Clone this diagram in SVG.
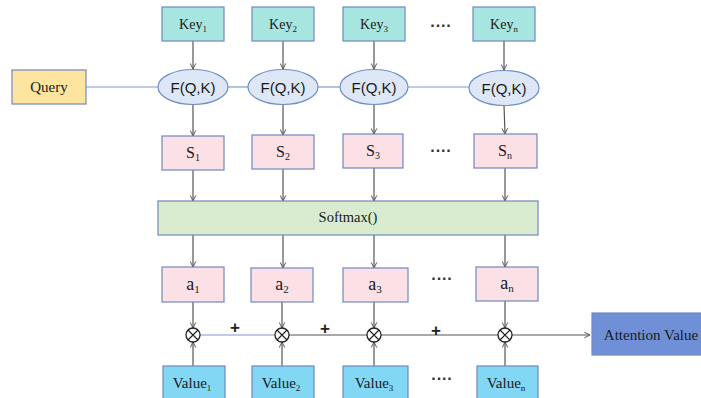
<svg xmlns="http://www.w3.org/2000/svg" width="701" height="398" viewBox="0 0 701 398">
  <style>
    .box { stroke: #7189bf; stroke-width: 1.2; }
    .key { fill: #a7e6e0; }
    .score { fill: #fbe0e5; }
    .val { fill: #82d7f5; }
    .query { fill: #fde59f; }
    .soft { fill: #d9ecd0; }
    .attn { fill: #6f8fd7; }
    .fqk { fill: #dde7f5; stroke: #6f8fc5; stroke-width: 1.2; }
    .serif { font-family: "Liberation Serif", "Times New Roman", serif; fill: #1a1a1a; text-anchor: middle; }
    .sans { font-family: "Liberation Sans", Arial, sans-serif; fill: #1a1a1a; text-anchor: middle; }
    .arrow { stroke: #555; stroke-width: 1.2; fill: none; marker-end: url(#head); }
    .link { stroke: #555; stroke-width: 1.2; fill: none; }
    .qline { stroke: #7f9ccb; stroke-width: 1.2; fill: none; }
    .otimes circle { fill: #fff; stroke: #222; stroke-width: 1.3; }
    .otimes path { stroke: #222; stroke-width: 1.2; }
    .dots { font-family: "Liberation Sans", Arial, sans-serif; font-size: 16px; font-weight: bold; fill: #333; text-anchor: middle; }
    .plus { font-family: "Liberation Sans", Arial, sans-serif; font-size: 17px; font-weight: bold; fill: #222; text-anchor: middle; }
  </style>
  <defs>
    <marker id="head" viewBox="0 0 10 10" refX="9" refY="5" markerWidth="7" markerHeight="7" markerUnits="userSpaceOnUse" orient="auto">
      <path d="M1,1 L9,5 L1,9" fill="none" stroke="#555" stroke-width="1.4"/>
    </marker>
  </defs>

  <!-- connectors -->
  <g id="connectors">
    <!-- query chain -->
    <path class="qline" d="M86,87 H158"/>
    <path class="qline" d="M227,87 H248"/>
    <path class="qline" d="M317,87 H340"/>
    <path class="qline" d="M408,87 H469"/>
    <!-- key to score function -->
    <path class="arrow" d="M193,41 V69"/>
    <path class="arrow" d="M283,41 V69"/>
    <path class="arrow" d="M374,41 V69"/>
    <path class="arrow" d="M504,41 V70"/>
    <!-- score function to S -->
    <path class="arrow" d="M193,104 V136"/>
    <path class="arrow" d="M283,104 V135"/>
    <path class="arrow" d="M374,104 V134"/>
    <path class="arrow" d="M504,105 L505,134"/>
    <!-- S to softmax -->
    <path class="arrow" d="M193,170 V201"/>
    <path class="arrow" d="M283,169 V201"/>
    <path class="arrow" d="M374,168 V201"/>
    <path class="arrow" d="M505,168 V201"/>
    <!-- softmax to a -->
    <path class="arrow" d="M193,235 V267"/>
    <path class="arrow" d="M283,235 V268"/>
    <path class="arrow" d="M374,235 V268"/>
    <path class="arrow" d="M505,235 V267"/>
    <!-- a to product -->
    <path class="arrow" d="M193,302 V328"/>
    <path class="arrow" d="M282,302 V328"/>
    <path class="arrow" d="M374,302 V328"/>
    <path class="arrow" d="M505,301 V328"/>
    <!-- value to product -->
    <path class="arrow" d="M193,366 V342"/>
    <path class="arrow" d="M282,366 V342"/>
    <path class="arrow" d="M374,366 V342"/>
    <path class="arrow" d="M505,366 V342"/>
    <!-- accumulation -->
    <path class="qline" d="M200,335 H275"/>
    <path class="link" d="M289,335 H367"/>
    <path class="link" d="M381,335 H498"/>
    <path class="arrow" d="M512,335 H590"/>
  </g>

  <!-- query -->
  <g id="query">
    <rect class="box query" x="12" y="70" width="74" height="34"/>
    <text class="serif" x="49" y="92" font-size="15">Query</text>
  </g>

  <!-- keys -->
  <g id="key1">
    <rect class="box key" x="162" y="7" width="62" height="34"/>
    <text class="serif" x="193" y="29" font-size="14">Key<tspan font-size="9" dy="3">1</tspan></text>
  </g>
  <g id="key2">
    <rect class="box key" x="252" y="7" width="62" height="34"/>
    <text class="serif" x="283" y="29" font-size="14">Key<tspan font-size="9" dy="3">2</tspan></text>
  </g>
  <g id="key3">
    <rect class="box key" x="343" y="7" width="62" height="34"/>
    <text class="serif" x="374" y="29" font-size="14">Key<tspan font-size="9" dy="3">3</tspan></text>
  </g>
  <g id="keyn">
    <rect class="box key" x="473" y="7" width="62" height="34"/>
    <text class="serif" x="504" y="29" font-size="14">Key<tspan font-size="9" dy="3">n</tspan></text>
  </g>

  <!-- score functions -->
  <g id="f1">
    <ellipse class="fqk" cx="193" cy="87" rx="35" ry="17.5"/>
    <text class="sans" x="193" y="92.5" font-size="15">F(Q,K)</text>
  </g>
  <g id="f2">
    <ellipse class="fqk" cx="283" cy="87" rx="35" ry="17.5"/>
    <text class="sans" x="283" y="92.5" font-size="15">F(Q,K)</text>
  </g>
  <g id="f3">
    <ellipse class="fqk" cx="374" cy="87" rx="34" ry="17.5"/>
    <text class="sans" x="374" y="92.5" font-size="15">F(Q,K)</text>
  </g>
  <g id="fn">
    <ellipse class="fqk" cx="504" cy="88" rx="35" ry="17.5"/>
    <text class="sans" x="504" y="93.5" font-size="15">F(Q,K)</text>
  </g>

  <!-- similarity scores -->
  <g id="s1">
    <rect class="box score" x="162" y="136" width="62" height="34"/>
    <text class="serif" x="193" y="158" font-size="16">S<tspan font-size="10" dy="3">1</tspan></text>
  </g>
  <g id="s2">
    <rect class="box score" x="252" y="135" width="62" height="34"/>
    <text class="serif" x="283" y="157" font-size="16">S<tspan font-size="10" dy="3">2</tspan></text>
  </g>
  <g id="s3">
    <rect class="box score" x="343" y="134" width="60" height="34"/>
    <text class="serif" x="373" y="156" font-size="16">S<tspan font-size="10" dy="3">3</tspan></text>
  </g>
  <g id="sn">
    <rect class="box score" x="474" y="134" width="63" height="34"/>
    <text class="serif" x="505" y="156" font-size="16">S<tspan font-size="10" dy="3">n</tspan></text>
  </g>

  <!-- softmax -->
  <g id="softmax">
    <rect class="box soft" x="158" y="201" width="380" height="34"/>
    <text class="serif" x="348" y="222" font-size="14.5">Softmax()</text>
  </g>

  <!-- attention weights -->
  <g id="a1">
    <rect class="box score" x="162" y="267" width="62" height="35"/>
    <text class="serif" x="193" y="290" font-size="18">a<tspan font-size="11" dy="3">1</tspan></text>
  </g>
  <g id="a2">
    <rect class="box score" x="251" y="268" width="62" height="34"/>
    <text class="serif" x="282" y="290" font-size="18">a<tspan font-size="11" dy="3">2</tspan></text>
  </g>
  <g id="a3">
    <rect class="box score" x="343" y="268" width="65" height="34"/>
    <text class="serif" x="375" y="290" font-size="18">a<tspan font-size="11" dy="3">3</tspan></text>
  </g>
  <g id="an">
    <rect class="box score" x="476" y="267" width="62" height="34"/>
    <text class="serif" x="507" y="289" font-size="18">a<tspan font-size="11" dy="3">n</tspan></text>
  </g>

  <!-- weighted products -->
  <g id="m1" class="otimes">
    <circle cx="193" cy="335" r="7"/>
    <path d="M188,330 L198,340 M198,330 L188,340"/>
  </g>
  <g id="m2" class="otimes">
    <circle cx="282" cy="335" r="7"/>
    <path d="M277,330 L287,340 M287,330 L277,340"/>
  </g>
  <g id="m3" class="otimes">
    <circle cx="374" cy="335" r="7"/>
    <path d="M369,330 L379,340 M379,330 L369,340"/>
  </g>
  <g id="mn" class="otimes">
    <circle cx="505" cy="335" r="7"/>
    <path d="M500,330 L510,340 M510,330 L500,340"/>
  </g>

  <text class="plus" x="235" y="333">+</text>
  <text class="plus" x="325" y="334">+</text>
  <text class="plus" x="436" y="336">+</text>

  <!-- values -->
  <g id="value1">
    <rect class="box val" x="163" y="366" width="62" height="36"/>
    <text class="serif" x="192" y="388" font-size="15">Value<tspan font-size="9" dy="3">1</tspan></text>
  </g>
  <g id="value2">
    <rect class="box val" x="252" y="366" width="62" height="36"/>
    <text class="serif" x="281" y="388" font-size="15">Value<tspan font-size="9" dy="3">2</tspan></text>
  </g>
  <g id="value3">
    <rect class="box val" x="343" y="366" width="65" height="36"/>
    <text class="serif" x="374" y="388" font-size="15">Value<tspan font-size="9" dy="3">3</tspan></text>
  </g>
  <g id="valuen">
    <rect class="box val" x="477" y="366" width="61" height="36"/>
    <text class="serif" x="506" y="388" font-size="15">Value<tspan font-size="9" dy="3">n</tspan></text>
  </g>

  <!-- output -->
  <g id="attention">
    <rect class="box attn" x="592" y="313" width="115" height="42"/>
    <text class="serif" x="651" y="340" font-size="15">Attention Value</text>
  </g>

  <!-- ellipses -->
  <text class="dots" x="441" y="31">····</text>
  <text class="dots" x="441" y="156">····</text>
  <text class="dots" x="442" y="284">····</text>
  <text class="dots" x="442" y="384">····</text>
</svg>
